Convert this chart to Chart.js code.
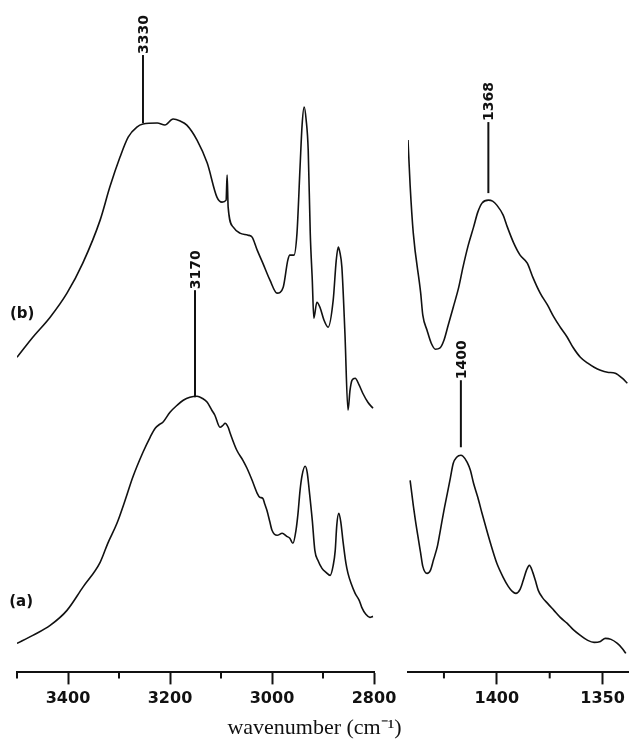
<!DOCTYPE html>
<html>
<head>
<meta charset="utf-8">
<script src="https://cdn.jsdelivr.net/npm/chart.js@4"></script>
<style>
  html, body { margin: 0; padding: 0; background: #fff; }
</style>
</head>
<body>
<canvas id="irChart" width="629" height="741"></canvas>
<script>
// spectrum (b), 3500-2800 cm-1 region
const bHighWn = [3500, 3469, 3435, 3402, 3371, 3337, 3318, 3298, 3282, 3265, 3253, 3225, 3210, 3194, 3180,
  3167, 3147, 3127, 3108, 3098, 3090, 3088, 3086, 3076, 3063, 3047, 3039, 3029, 3018, 3004,
  2990, 2978, 2969, 2965, 2957, 2951, 2945, 2941, 2937, 2933, 2929, 2925, 2921, 2918, 2912,
  2906, 2898, 2890, 2880, 2874, 2870, 2867, 2863, 2857, 2851, 2847, 2843, 2837, 2829, 2822, 2812, 2802];
const bHighAbs = [315, 335, 355, 379, 409, 452, 485, 515, 535, 545, 548, 549, 547, 553, 551,
  547, 532, 509, 475, 470, 472, 497, 465, 445, 439, 437, 435, 422, 409, 392,
  379, 385, 412, 417, 417, 439, 505, 547, 565, 552, 522, 439, 392, 354, 370,
  365, 352, 345, 372, 412, 425, 420, 405, 339, 262, 282, 292, 294, 287, 279, 270, 264];

// spectrum (b), 1440-1340 cm-1 region
const bLowWn = [1442, 1441, 1439.5, 1436, 1435, 1433, 1431, 1429, 1427, 1425, 1423, 1420.6, 1418, 1416, 1413.5,
  1411, 1409, 1407, 1404, 1402, 1400, 1397, 1395, 1392, 1389, 1385.6, 1383, 1379.5, 1376, 1373,
  1370, 1366.7, 1364, 1360.5, 1357, 1354, 1351, 1347.7, 1344, 1340.7, 1338.3];
const bLowAbs = [532, 487, 439, 379, 357, 342, 329, 323, 324, 332, 347, 365, 385, 405, 427,
  445, 460, 469, 472, 471, 467, 457, 445, 429, 417, 409, 395, 379, 367, 355,
  345, 335, 325, 315, 309, 305, 302, 300, 299, 294, 289];

// spectrum (a), 3500-2800 cm-1 region
const aHighWn = [3500, 3469, 3435, 3402, 3371, 3337, 3322, 3304, 3288, 3273, 3253, 3239, 3229, 3220, 3214,
  3200, 3186, 3174, 3161, 3147, 3137, 3127, 3118, 3112, 3102, 3096, 3092, 3086, 3082, 3069,
  3057, 3049, 3039, 3029, 3024, 3018, 3014, 3010, 3004, 3000, 2990, 2980, 2971, 2965, 2959,
  2953, 2949, 2945, 2941, 2935, 2931, 2927, 2921, 2916, 2910, 2902, 2894, 2886, 2880, 2876,
  2873, 2869, 2865, 2861, 2855, 2851, 2845, 2837, 2829, 2824, 2816, 2808, 2802];
const aHighAbs = [29, 37, 47, 62, 85, 110, 129, 149, 172, 195, 220, 235, 244, 248, 250,
  260, 267, 272, 275, 276, 274, 270, 262, 257, 245, 247, 249, 245, 239, 222,
  212, 204, 192, 179, 175, 174, 168, 162, 150, 142, 137, 139, 136, 134, 129,
  142, 159, 182, 197, 206, 200, 182, 152, 122, 112, 104, 100, 97, 107, 122,
  147, 159, 150, 132, 109, 99, 89, 79, 72, 65, 58, 55, 56];

// spectrum (a), 1440-1340 cm-1 region
const aLowWn = [1441, 1439.5, 1438.5, 1437, 1436, 1435, 1433, 1431.4, 1430, 1428, 1426.7, 1425, 1423.4, 1422, 1420.6,
  1419, 1417, 1416, 1414, 1412.5, 1411, 1409, 1407, 1404.5, 1402, 1400, 1397, 1394.6, 1392.7, 1391,
  1389, 1387.5, 1386, 1384.6, 1383, 1381.8, 1380.4, 1378.5, 1376, 1373, 1370, 1366.7, 1364, 1360.5, 1357,
  1354, 1351, 1348.7, 1346, 1343, 1340.7, 1339];
const aLowAbs = [192, 167, 152, 132, 119, 106, 99, 102, 112, 127, 142, 162, 179, 194, 209,
  215, 217, 216, 210, 202, 189, 175, 159, 140, 122, 109, 95, 86, 81, 79,
  83, 92, 102, 107, 100, 92, 82, 75, 69, 62, 55, 49, 43, 37, 32,
  30, 31, 34, 33, 29, 24, 19];

// axis ticks
const leftTicks = [3400, 3200, 3000, 2800];
const leftMinor = [3500, 3300, 3100, 2900];
const rightTicks = [1400, 1350];
const rightMinor = [1425, 1375];

// peak labels (text as printed, drawn at the band position)
const peakLabels = ['3330', '3170', '1368', '1400'];
const peakWn = [3253, 3151, 1404, 1417];
const peakAxis = ['x1', 'x1', 'x2', 'x2'];
const peakFrom = [549, 275, 479, 225];
const peakTo = [617, 382, 550, 292];

// curve names
const curveNames = ['(b)', '(a)'];
const curveWn = [3490, 3492];
const curveAbs = [358, 70];

const ink = '#111';
const none = 'rgba(0,0,0,0)';

function spectrum(wn, abs, axis) {
  return {
    data: wn.map((x, i) => ({ x: x, y: abs[i] })),
    xAxisID: axis,
    yAxisID: 'y',
    borderColor: ink,
    borderWidth: 1.6,
    pointRadius: 0,
    fill: false,
    cubicInterpolationMode: 'monotone'
  };
}

function noPadding(scale) {
  scale.paddingLeft = 0;
  scale.paddingRight = 0;
}

const tickFont = { family: 'DejaVu Sans', size: 16, weight: 'bold' };

const axisStyle = {
  border: { display: true, color: ink, width: 2 },
  grid: { display: true, drawOnChartArea: false, drawTicks: true, tickLength: 12, tickWidth: 2, tickColor: ink },
  ticks: { color: ink, padding: 5, maxRotation: 0, autoSkip: false, font: tickFont, callback: v => String(v) }
};

// invisible axis pieces (same height as the real ones) used as spacers in the broken x axis
const spacer = weight => ({
  type: 'linear', position: 'bottom', min: 0, max: 1,
  stack: 'wn', stackWeight: weight,
  border: { display: false },
  grid: { display: true, drawOnChartArea: false, drawTicks: true, tickLength: 12, tickColor: none },
  ticks: { color: none, padding: 5, maxRotation: 0, font: tickFont },
  afterFit: noPadding
});

// minor ticks, peak markers and (a)/(b) names
const extras = {
  id: 'extras',
  afterDraw(chart) {
    const ctx = chart.ctx;
    const y = chart.scales.y;
    ctx.save();
    ctx.strokeStyle = ink;
    ctx.fillStyle = ink;
    ctx.lineWidth = 2;
    [['x1', leftMinor], ['x2', rightMinor]].forEach(([id, vals]) => {
      const s = chart.scales[id];
      vals.forEach(v => {
        const px = s.getPixelForValue(v);
        ctx.beginPath();
        ctx.moveTo(px, s.top);
        ctx.lineTo(px, s.top + 6);
        ctx.stroke();
      });
    });

    ctx.font = 'bold 14px "DejaVu Sans"';
    ctx.textBaseline = 'middle';
    ctx.textAlign = 'left';
    peakWn.forEach((wn, i) => {
      const px = chart.scales[peakAxis[i]].getPixelForValue(wn);
      const y0 = y.getPixelForValue(peakFrom[i]);
      const y1 = y.getPixelForValue(peakTo[i]);
      ctx.beginPath();
      ctx.moveTo(px, y0);
      ctx.lineTo(px, y1);
      ctx.stroke();
      ctx.save();
      ctx.translate(px + 1, y1 - 1);
      ctx.rotate(-Math.PI / 2);
      ctx.fillText(peakLabels[i], 0, 0);
      ctx.restore();
    });

    ctx.font = 'bold 15px "DejaVu Sans"';
    ctx.textAlign = 'center';
    curveNames.forEach((name, i) => {
      ctx.fillText(name, chart.scales.x1.getPixelForValue(curveWn[i]), y.getPixelForValue(curveAbs[i]));
    });
    ctx.restore();
  }
};

new Chart(document.getElementById('irChart'), {
  type: 'line',
  data: {
    datasets: [
      spectrum(bHighWn, bHighAbs, 'x1'),
      spectrum(bLowWn, bLowAbs, 'x2'),
      spectrum(aHighWn, aHighAbs, 'x1'),
      spectrum(aLowWn, aLowAbs, 'x2')
    ]
  },
  options: {
    responsive: false,
    animation: false,
    events: [],
    layout: { padding: 0, autoPadding: false },
    scales: {
      lead: spacer(17),
      x1: {
        type: 'linear', position: 'bottom', reverse: true, min: 2800, max: 3500,
        stack: 'wn', stackWeight: 357,
        ...axisStyle,
        afterBuildTicks: s => { s.ticks = leftTicks.map(v => ({ value: v })); },
        afterFit: noPadding
      },
      gap: spacer(34),
      x2: {
        type: 'linear', position: 'bottom', reverse: true, min: 1337.5, max: 1442,
        stack: 'wn', stackWeight: 221,
        ...axisStyle,
        afterBuildTicks: s => { s.ticks = rightTicks.map(v => ({ value: v })); },
        afterFit: noPadding
      },
      y: { display: false, min: 0, max: 672 }
    },
    plugins: {
      legend: { display: false },
      tooltip: { enabled: false },
      title: {
        display: true,
        position: 'bottom',
        text: 'wavenumber (cm⁻¹)',
        color: ink,
        font: { family: 'Liberation Serif', size: 22, weight: 'normal' },
        padding: { top: 1, bottom: 0 }
      }
    }
  },
  plugins: [extras]
});
</script>
</body>
</html>
